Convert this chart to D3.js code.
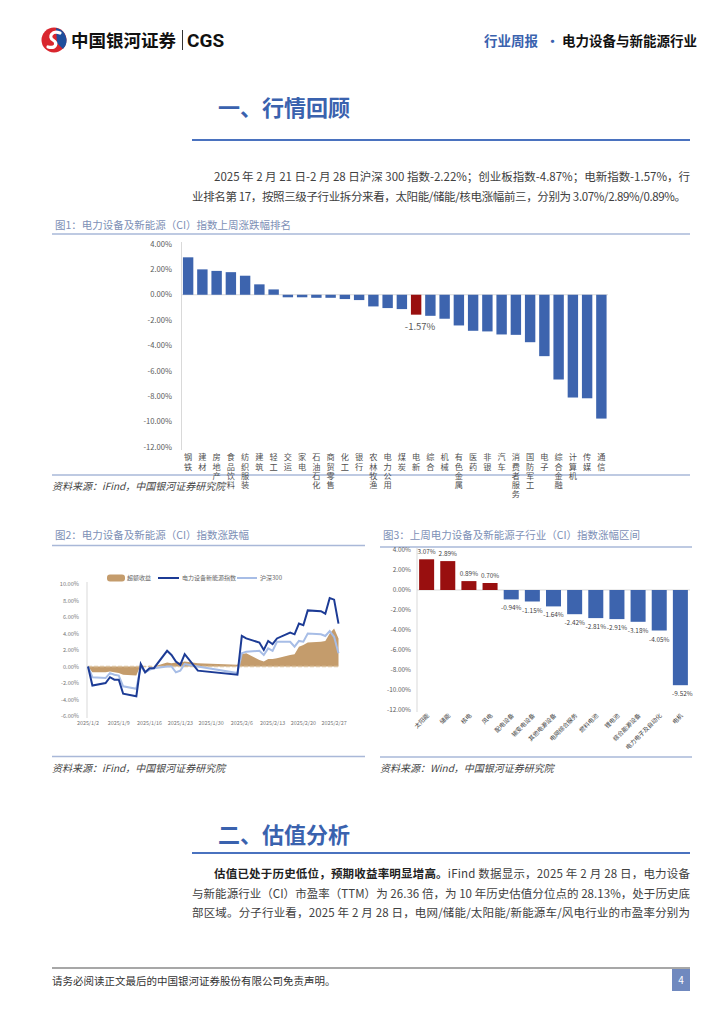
<!DOCTYPE html>
<html>
<head>
<meta charset="utf-8">
<script src="https://cdn.jsdelivr.net/npm/d3@7"></script>
<style>
  body { margin: 0; background: #fff; }
  svg { display: block; font-family: "Noto Sans CJK SC", "Noto Sans", sans-serif; }
</style>
</head>
<body>
<script>
// ---- dati ----
// fig 1: industry weekly change (%)
const industries = ["钢铁", "建材", "房地产", "食品饮料", "纺织服装", "建筑", "轻工", "交运", "家电", "石油石化",
  "商贸零售", "化工", "银行", "农林牧渔", "电力公用", "煤炭", "电新", "综合", "机械", "有色金属",
  "医药", "非银", "汽车", "消费者服务", "国防军工", "电子", "综合金融", "计算机", "传媒", "通信"];
const industryChg = [2.95, 2.0, 1.88, 1.78, 1.5, 0.82, 0.42, -0.2, -0.2, -0.24, -0.24, -0.34, -0.42, -0.92, -1.05,
  -1.13, -1.57, -1.66, -1.89, -2.42, -2.84, -2.89, -3.13, -3.16, -3.74, -4.84, -6.68, -8.1, -8.16, -9.76];
const highlight = "电新";
const chgTicks = [4, 2, 0, -2, -4, -6, -8, -10, -12];

// fig 2: cumulative change since 2025/1/2 (%)
const tradeDates = ["2025-01-02", "2025-01-03", "2025-01-06", "2025-01-07", "2025-01-08", "2025-01-09", "2025-01-10",
  "2025-01-13", "2025-01-14", "2025-01-15", "2025-01-16", "2025-01-17", "2025-01-20", "2025-01-21", "2025-01-22",
  "2025-01-23", "2025-01-24", "2025-01-27", "2025-02-05", "2025-02-06", "2025-02-07", "2025-02-10", "2025-02-11",
  "2025-02-12", "2025-02-13", "2025-02-14", "2025-02-17", "2025-02-18", "2025-02-19", "2025-02-20", "2025-02-21",
  "2025-02-24", "2025-02-25", "2025-02-26", "2025-02-27", "2025-02-28"];
const excessRet = [0, -0.7, -0.7, -0.6, -0.7, -0.8, -1.0, -1.1, 0.2, -0.1, 0.1, 0.0, 0.5, 0.4, 0.5, 0.5, 0.6, 0.4,
  0.2, 1.5, 1.6, 0.8, 0.6, 0.9, 0.9, 1.0, 1.4, 1.5, 2.4, 2.6, 2.9, 3.0, 3.1, 4.0, 4.6, 3.4];
const indexRet = [0, -2.3, -2.0, -1.3, -1.6, -1.6, -3.3, -3.6, 0.3, -0.7, -0.2, -0.2, 1.9, 1.4, 0.6, 0.2, 1.5, -0.5,
  -1.0, 3.7, 3.4, 2.9, 2.0, 3.1, 2.7, 3.4, 4.1, 3.9, 5.2, 5.0, 6.8, 6.7, 6.4, 8.3, 8.1, 5.2];
const hs300Ret = [0, -1.3, -1.4, -0.8, -1.0, -1.1, -2.4, -2.7, 0.0, -0.7, -0.4, -0.2, 0.0, 0.0, -0.7, -0.5, 0.3, 0.0,
  -0.8, 1.6, 1.8, 1.9, 1.4, 2.2, 1.9, 3.0, 3.0, 2.4, 3.1, 3.0, 4.0, 3.9, 3.7, 4.3, 3.6, 1.6];
const dateTicks = ["2025-01-02", "2025-01-09", "2025-01-16", "2025-01-23", "2025-01-30", "2025-02-06",
  "2025-02-13", "2025-02-20", "2025-02-27"];
const retTicks = [10, 8, 6, 4, 2, 0, -2, -4, -6];
const seriesNames = ["超额收益", "电力设备新能源指数", "沪深300"];

// fig 3: sub-industry weekly change (%)
const subInds = ["太阳能", "储能", "核电", "风电", "配电设备", "输变电设备", "其他电源设备", "电网综合服务",
  "燃料电池", "锂电池", "综合能源设备", "电力电子及自动化", "电机"];
const subChg = [3.07, 2.89, 0.89, 0.70, -0.94, -1.15, -1.64, -2.42, -2.81, -2.91, -3.18, -4.05, -9.52];

const blue = "#3d64ae", red = "#990f0f", grey = "#595959";
const fmt = d => d.toFixed(2) + "%";

const svg = d3.select("body").append("svg").attr("width", 724).attr("height", 1024);

// ---- header ----
const logo = svg.append("g").attr("transform", "translate(54,40)");
logo.append("circle").attr("r", 12.5).attr("fill", "#d9262e");
logo.append("path").attr("d", "M2,-12 A12.5,12.5 0 0,1 9,9 L3,3 Z").attr("fill", "#1f4e9d");
logo.append("path").attr("d", "M6,-7 C-2,-10 -6,-3 -1,0 C4,3 2,9 -6,7")
  .attr("fill", "none").attr("stroke", "#fff").attr("stroke-width", 3.2).attr("stroke-linecap", "round");
svg.append("text").attr("x", 71).attr("y", 46.5).attr("font-size", 17.5).attr("font-weight", 700)
  .attr("fill", "#111").text("中国银河证券");
svg.append("rect").attr("x", 182).attr("y", 30).attr("width", 1).attr("height", 20).attr("fill", "#333");
svg.append("text").attr("x", 187).attr("y", 47).attr("font-size", 19).attr("font-weight", 700)
  .attr("fill", "#111").attr("font-family", "Roboto, sans-serif").text("CGS");
svg.append("text").attr("x", 484).attr("y", 46).attr("font-size", 13.5).attr("font-weight", 700)
  .attr("fill", "#3a62ae").text("行业周报");
svg.append("text").attr("x", 546).attr("y", 46).attr("font-size", 13).attr("font-weight", 700)
  .attr("fill", "#3a62ae").text("·");
svg.append("text").attr("x", 562).attr("y", 46).attr("font-size", 13.5).attr("font-weight", 700)
  .attr("fill", "#111").text("电力设备与新能源行业");

// ---- section helper ----
function section(title, y, lineY) {
  svg.append("text").attr("x", 218).attr("y", y).attr("font-size", 22).attr("font-weight", 700)
    .attr("fill", "#3a62ae").text(title);
  svg.append("line").attr("x1", 192).attr("x2", 690).attr("y1", lineY).attr("y2", lineY)
    .attr("stroke", "#4a72bf").attr("stroke-width", 2);
}
function para(lines, y0, gap) {
  lines.forEach((l, i) => {
    const t = svg.append("text").attr("x", l.x).attr("y", y0 + i * gap).attr("font-size", 11.5)
      .attr("fill", "#404040");
    if (l.len) t.attr("textLength", l.len).attr("lengthAdjust", "spacing");
    if (l.bold) {
      t.append("tspan").attr("font-weight", 700).attr("fill", "#222").text(l.bold);
    }
    t.append("tspan").text(l.t);
  });
}
function chartFrame(x1, x2, titleY, lineY, botY, title, src) {
  svg.append("text").attr("x", x1 + 3).attr("y", titleY).attr("font-size", 10.5)
    .attr("fill", "#7d90b6").text(title);
  svg.append("line").attr("x1", x1).attr("x2", x2).attr("y1", lineY).attr("y2", lineY)
    .attr("stroke", "#a9b8d8").attr("stroke-width", 1.6);
  svg.append("line").attr("x1", x1).attr("x2", x2).attr("y1", botY).attr("y2", botY)
    .attr("stroke", "#a9b8d8").attr("stroke-width", 1.6);
  svg.append("text").attr("x", x1).attr("y", botY + 15).attr("font-size", 10).attr("font-style", "italic")
    .attr("fill", "#444").text(src);
}

section("一、行情回顾", 116, 140);
para([
  { x: 214, len: 476, t: "2025 年 2 月 21 日-2 月 28 日沪深 300 指数-2.22%；创业板指数-4.87%；电新指数-1.57%，行" },
  { x: 192, len: 494, t: "业排名第 17，按照三级子行业拆分来看，太阳能/储能/核电涨幅前三，分别为 3.07%/2.89%/0.89%。" }
], 181, 20);

// ---- fig 1 ----
chartFrame(52, 690, 229, 234, 475, "图1：电力设备及新能源（CI）指数上周涨跌幅排名", "资料来源：iFind，中国银河证券研究院");
{
  const x = d3.scaleBand().domain(industries).range([181.5, 608]).paddingInner(0.27).paddingOuter(0.1);
  const y = d3.scaleLinear().domain([-12, 4]).range([447, 244]);
  const g = svg.append("g");
  g.append("line").attr("x1", 181.5).attr("x2", 181.5).attr("y1", 242).attr("y2", 450).attr("stroke", "#d9d9d9");
  g.append("line").attr("x1", 181.5).attr("x2", 608).attr("y1", y(0)).attr("y2", y(0)).attr("stroke", "#d9d9d9");
  g.selectAll(".yt").data(chgTicks).join("text").attr("x", 172).attr("y", d => y(d) + 2.7)
    .attr("text-anchor", "end").attr("font-size", 7.6).attr("fill", grey).text(fmt);
  g.selectAll(".bar").data(industries).join("rect")
    .attr("x", d => x(d)).attr("width", x.bandwidth())
    .attr("y", (d, i) => y(Math.max(0, industryChg[i])))
    .attr("height", (d, i) => Math.abs(y(industryChg[i]) - y(0)))
    .attr("fill", d => d === highlight ? red : blue);
  const hi = industries.indexOf(highlight);
  g.append("text").attr("x", x(highlight) + x.bandwidth() / 2 + 4).attr("y", y(industryChg[hi]) + 15)
    .attr("text-anchor", "middle").attr("font-size", 9.5).attr("fill", grey).text(fmt(industryChg[hi]));
  // vertical labels
  g.selectAll(".xl").data(industries).join("text")
    .style("writing-mode", "vertical-rl")
    .attr("x", d => x(d) + x.bandwidth() / 2).attr("y", 453)
    .attr("letter-spacing", 1.1)
    .attr("font-size", 8.2).attr("fill", "#505050").text(d => d);
}

// ---- fig 2 ----
chartFrame(52, 365, 539, 545.5, 756.5, "图2：电力设备及新能源（CI）指数涨跌幅", "资料来源：iFind，中国银河证券研究院");
{
  const parse = d3.timeParse("%Y-%m-%d");
  const dates = tradeDates.map(parse);
  const x = d3.scaleTime().domain([parse("2025-01-02"), parse("2025-02-28")]).range([88, 338.5]);
  const y = d3.scaleLinear().domain([-6, 10]).range([716, 584]);
  const g = svg.append("g");
  g.append("line").attr("x1", 87).attr("x2", 87).attr("y1", 582).attr("y2", 718).attr("stroke", "#d9d9d9");
  g.selectAll(".yt").data(retTicks).join("text").attr("x", 79).attr("y", d => y(d) + 2)
    .attr("text-anchor", "end").attr("font-size", 5.6).attr("fill", "#777").text(fmt);
  g.selectAll(".xt").data(dateTicks).join("text")
    .attr("x", d => x(parse(d))).attr("y", 725).attr("text-anchor", "middle")
    .attr("font-size", 5.4).attr("fill", "#777")
    .text(d => d3.timeFormat("%Y/%-m/%-d")(parse(d)));

  const area = d3.area().x((d, i) => x(dates[i])).y0(y(0)).y1(d => y(d));
  g.append("path").datum(excessRet).attr("d", area).attr("fill", "#c49c6c");
  g.append("line").attr("x1", 88).attr("x2", 340).attr("y1", y(0)).attr("y2", y(0))
    .attr("stroke", "#dcc3a0").attr("stroke-width", 1.6).attr("stroke-dasharray", "4,2");
  const line = d3.line().x((d, i) => x(dates[i])).y(d => y(d));
  g.append("path").datum(hs300Ret).attr("d", line).attr("fill", "none")
    .attr("stroke", "#a7bde6").attr("stroke-width", 2);
  g.append("path").datum(indexRet).attr("d", line).attr("fill", "none")
    .attr("stroke", "#1c3b95").attr("stroke-width", 2);

  // legend
  const lg = g.append("g").attr("transform", "translate(107,578)");
  lg.append("rect").attr("x", 0).attr("y", -3.5).attr("width", 18).attr("height", 7).attr("rx", 3)
    .attr("fill", "#c49c6c");
  lg.append("line").attr("x1", 51).attr("x2", 72).attr("y1", 0).attr("y2", 0).attr("stroke", "#1c3b95").attr("stroke-width", 2);
  lg.append("line").attr("x1", 130).attr("x2", 150).attr("y1", 0).attr("y2", 0).attr("stroke", "#a7bde6").attr("stroke-width", 2);
  [20, 75, 153].forEach((lx, i) => {
    lg.append("text").attr("x", lx).attr("y", 2.2).attr("font-size", 6).attr("fill", "#666").text(seriesNames[i]);
  });
}

// ---- fig 3 ----
chartFrame(380, 692, 539, 547, 757, "图3：上周电力设备及新能源子行业（CI）指数涨幅区间", "资料来源：Wind，中国银河证券研究院");
{
  const x = d3.scaleBand().domain(subInds).range([417, 690]).paddingInner(0.29).paddingOuter(0.1);
  const y = d3.scaleLinear().domain([-12, 4]).range([710, 550]);
  const g = svg.append("g");
  g.append("line").attr("x1", 417).attr("x2", 417).attr("y1", 548).attr("y2", 712).attr("stroke", "#d9d9d9");
  g.append("line").attr("x1", 417).attr("x2", 690).attr("y1", y(0)).attr("y2", y(0)).attr("stroke", "#d9d9d9");
  g.selectAll(".yt").data(chgTicks).join("text").attr("x", 411).attr("y", d => y(d) + 2.3)
    .attr("text-anchor", "end").attr("font-size", 6.4).attr("fill", grey).text(fmt);
  g.selectAll(".bar").data(subInds).join("rect")
    .attr("x", d => x(d)).attr("width", x.bandwidth())
    .attr("y", (d, i) => y(Math.max(0, subChg[i])))
    .attr("height", (d, i) => Math.abs(y(subChg[i]) - y(0)))
    .attr("fill", (d, i) => subChg[i] >= 0 ? red : blue);
  g.selectAll(".lbl").data(subInds).join("text")
    .attr("x", (d, i) => x(d) + x.bandwidth() / 2 + (i === subInds.length - 1 ? 2 : 0))
    .attr("y", (d, i) => subChg[i] >= 0 ? y(subChg[i]) - 5 : y(subChg[i]) + 11)
    .attr("text-anchor", "middle").attr("font-size", 6.4).attr("fill", "#404040")
    .text((d, i) => fmt(subChg[i]));
  g.selectAll(".xl").data(subInds).join("text")
    .attr("transform", d => `translate(${x(d) + x.bandwidth() / 2 + 3},716) rotate(-45)`)
    .attr("text-anchor", "end").attr("font-size", 6).attr("fill", "#404040").text(d => d);
}

// ---- section 2 ----
section("二、估值分析", 843, 853);
para([
  { x: 214, len: 476, bold: "估值已处于历史低位，预期收益率明显增高。", t: "iFind 数据显示，2025 年 2 月 28 日，电力设备" },
  { x: 192, len: 498, t: "与新能源行业（CI）市盈率（TTM）为 26.36 倍，为 10 年历史估值分位点的 28.13%，处于历史底" },
  { x: 192, len: 498, t: "部区域。分子行业看，2025 年 2 月 28 日，电网/储能/太阳能/新能源车/风电行业的市盈率分别为" }
], 878, 19.5);

// ---- footer ----
svg.append("line").attr("x1", 52).attr("x2", 690).attr("y1", 968).attr("y2", 968)
  .attr("stroke", "#8a8a8a").attr("stroke-width", 1.5);
svg.append("text").attr("x", 52).attr("y", 985).attr("font-size", 10.5).attr("fill", "#333")
  .text("请务必阅读正文最后的中国银河证券股份有限公司免责声明。");
svg.append("rect").attr("x", 672).attr("y", 969).attr("width", 18).attr("height", 22).attr("fill", "#7089bf");
svg.append("text").attr("x", 681).attr("y", 984).attr("text-anchor", "middle").attr("font-size", 10)
  .attr("fill", "#fff").text("4");
</script>
</body>
</html>
